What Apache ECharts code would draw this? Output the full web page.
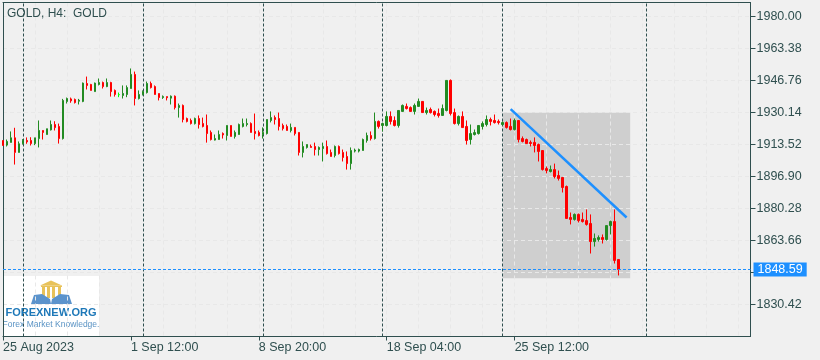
<!DOCTYPE html>
<html><head><meta charset="utf-8">
<style>html,body{margin:0;padding:0;background:#f0f0f0}#c{width:820px;height:360px}</style>
<script src="https://cdn.jsdelivr.net/npm/echarts@6/dist/echarts.min.js"></script>
</head><body><div id="c"></div>
<script>
const opens = [1915.6,1913.2,1914.6,1917.0,1909.4,1913.9,1915.6,1915.6,1914.0,1916.6,1920.8,1918.7,1921.1,1923.9,1922.9,1916.6,1935.9,1937.2,1936.9,1936.0,
1935.9,1945.2,1944.7,1941.0,1944.7,1945.7,1943.6,1945.7,1941.6,1939.4,1939.0,1939.5,1942.6,1949.9,1937.4,1939.5,1940.5,1945.2,1943.6,1940.0,
1937.9,1938.4,1937.6,1938.6,1932.7,1933.8,1927.0,1926.0,1924.4,1927.0,1924.4,1923.4,1919.8,1915.8,1916.1,1919.2,1918.2,1923.4,1917.7,1918.7,
1922.9,1923.9,1924.4,1920.3,1919.8,1918.7,1919.2,1926.0,1927.5,1927.0,1923.4,1922.9,1920.8,1922.4,1919.8,1909.4,1912.0,1912.5,1912.5,1910.9,
1911.4,1912.5,1909.4,1907.8,1912.5,1909.4,1907.3,1903.6,1910.1,1910.1,1910.4,1915.6,1918.2,1916.6,1925.5,1923.4,1923.4,1928.1,1926.0,1923.4,
1930.7,1933.3,1932.7,1930.7,1933.3,1935.9,1930.1,1931.7,1930.7,1929.6,1928.6,1931.2,1946.8,1930.1,1924.4,1928.1,1922.9,1916.1,1918.7,1919.2,
1922.9,1923.9,1926.5,1926.0,1925.5,1923.9,1924.9,1922.9,1921.3,1926.0,1916.6,1916.1,1914.6,1914.6,1913.5,1910.4,1901.0,1899.5,1900.5,1897.4,
1896.4,1891.7,1875.6,1874.6,1877.2,1874.6,1874.0,1872.5,1863.1,1864.2,1865.2,1864.2,1871.4,1873.5,1853.8];
const closes = [1913.0,1915.1,1917.0,1909.4,1913.9,1915.6,1914.9,1914.0,1917.0,1920.8,1919.8,1921.7,1923.9,1922.3,1916.6,1936.4,1937.4,1936.2,1935.3,1936.5,
1945.4,1944.2,1941.6,1945.4,1945.7,1943.6,1945.7,1941.0,1939.5,1939.4,1940.0,1943.1,1949.9,1937.4,1939.5,1941.0,1945.2,1943.1,1939.5,1937.9,
1938.4,1937.8,1938.6,1932.7,1933.8,1926.5,1925.5,1924.4,1927.0,1923.9,1922.9,1919.2,1916.1,1916.6,1918.7,1918.5,1923.4,1917.7,1919.8,1923.9,
1924.4,1924.4,1919.8,1919.2,1918.2,1919.8,1926.5,1927.5,1926.5,1922.9,1921.8,1920.8,1922.4,1919.2,1909.4,1912.5,1913.5,1912.0,1910.9,1912.0,
1912.5,1908.8,1907.3,1912.5,1908.8,1906.8,1903.6,1910.4,1910.6,1910.9,1916.1,1918.2,1916.6,1925.5,1922.9,1924.4,1928.1,1925.5,1923.4,1931.2,
1933.8,1932.2,1930.7,1933.8,1935.9,1930.1,1931.2,1930.1,1929.1,1928.6,1932.2,1946.8,1929.6,1924.4,1928.1,1922.3,1915.6,1919.2,1919.7,1923.4,
1924.4,1926.5,1925.5,1924.9,1924.9,1924.9,1922.4,1921.3,1926.0,1916.1,1915.1,1914.0,1914.0,1913.0,1909.9,1900.5,1900.0,1900.5,1896.9,1895.9,
1891.2,1875.1,1874.6,1877.2,1874.0,1873.5,1872.0,1863.1,1864.7,1865.2,1864.2,1871.4,1873.5,1853.3,1848.59];
const lows = [1913.0,1912.5,1914.6,1903.1,1909.4,1913.5,1913.9,1913.0,1913.2,1912.0,1916.1,1918.7,1920.8,1920.8,1914.0,1916.1,1934.8,1935.2,1934.8,1934.3,
1935.5,1942.1,1941.6,1941.0,1944.2,1942.6,1943.3,1938.4,1938.4,1938.1,1937.4,1938.1,1942.6,1933.8,1936.9,1939.0,1940.0,1942.6,1939.5,1936.4,
1937.2,1936.4,1934.3,1931.7,1927.5,1925.0,1925.0,1923.9,1923.9,1921.8,1922.4,1914.5,1915.6,1915.6,1916.1,1916.6,1915.6,1917.7,1916.6,1918.7,
1922.4,1922.9,1919.8,1916.1,1917.7,1916.6,1918.7,1925.0,1923.9,1920.8,1920.8,1920.8,1919.8,1918.2,1907.8,1906.8,1911.4,1912.0,1907.8,1907.8,
1904.7,1908.3,1907.3,1906.8,1908.3,1904.7,1900.5,1900.5,1909.4,1909.4,1910.4,1914.5,1915.6,1916.1,1921.8,1920.3,1922.9,1923.9,1922.9,1922.3,
1930.7,1931.7,1930.7,1929.1,1933.3,1930.1,1929.1,1929.6,1928.1,1927.5,1928.6,1930.7,1928.6,1923.9,1923.4,1922.3,1913.5,1913.5,1918.2,1918.7,
1921.3,1922.9,1923.4,1924.4,1923.9,1923.4,1921.8,1920.8,1920.8,1914.6,1914.6,1914.0,1912.5,1909.4,1904.7,1900.0,1898.5,1899.0,1895.9,1894.8,
1888.6,1875.1,1872.0,1874.0,1873.0,1873.0,1871.4,1856.9,1860.5,1863.1,1862.1,1863.6,1866.8,1851.7,1845.5];
const highs = [1915.6,1916.1,1920.3,1922.2,1915.1,1916.3,1917.2,1917.3,1917.0,1926.0,1920.8,1921.7,1926.0,1925.6,1924.4,1937.2,1937.9,1937.9,1937.4,1937.2,
1945.7,1948.8,1945.0,1945.7,1947.8,1946.2,1947.8,1946.1,1942.1,1940.5,1944.2,1944.2,1953.0,1951.4,1941.6,1941.6,1946.2,1946.2,1944.2,1940.0,
1939.0,1938.4,1939.0,1939.0,1934.8,1934.3,1927.5,1927.0,1927.5,1928.6,1927.5,1929.1,1920.8,1918.7,1920.8,1919.8,1923.4,1923.4,1920.8,1924.4,
1927.0,1927.0,1925.0,1929.6,1920.8,1922.4,1926.5,1930.7,1928.6,1930.1,1924.4,1923.9,1924.4,1922.4,1919.8,1915.1,1913.5,1913.5,1914.5,1912.5,
1914.5,1915.6,1910.9,1913.0,1913.0,1910.9,1909.9,1912.0,1911.4,1911.4,1916.6,1919.7,1920.3,1930.1,1926.0,1924.9,1930.7,1930.7,1928.1,1931.2,
1934.3,1934.8,1933.3,1934.8,1937.4,1935.9,1932.7,1932.7,1931.2,1932.2,1934.3,1946.8,1947.3,1932.2,1928.6,1930.7,1926.0,1923.9,1921.3,1923.4,
1925.5,1928.6,1927.5,1929.1,1926.5,1925.5,1925.5,1927.0,1927.0,1926.0,1917.7,1916.6,1915.6,1917.2,1914.0,1910.4,1902.1,1902.6,1903.6,1900.0,
1896.4,1892.2,1878.2,1877.7,1877.7,1878.2,1879.8,1877.2,1867.3,1866.3,1866.8,1871.4,1874.0,1879.8,1853.8];
const dojiBars = [29];
const yTicks = [1980.00,1963.38,1946.76,1930.14,1913.52,1896.90,1880.28,1863.66,1847.04,1830.42];
const xTickBars = [0,32,64,96,128];
const xTickLabels = ['25 Aug 2023','1 Sep 12:00','8 Sep 20:00','18 Sep 04:00','25 Sep 12:00'];
const separatorBars = [5,35,65,95,125,161];
const bidPrice = 1848.59;
const zoneBars = [125,156.9], zonePrices = [1930.14,1844.1];
const trendBars = [127,156], trendPrices = [1931.85,1875.6];
const INK='#2f4f4f', BLUE='#1e90ff', FONT='"Liberation Sans",Arial,sans-serif';

const candles = opens.map((o,i)=>{
  const value=[i,o,closes[i],lows[i],highs[i]];
  return dojiBars.includes(i)?{value,itemStyle:{color:'#00ff00',color0:'#00ff00',borderColor:'#00ff00',borderColor0:'#00ff00'}}:{value};
});
const gridLine={show:true,lineStyle:{color:'#e8e8e8',width:1,type:[4,3]}};
const frameLine={show:true,onZero:false,lineStyle:{color:INK,width:1}};
const chart=echarts.init(document.getElementById('c'),null,{renderer:'canvas'});
const gold='#e8c25a';
chart.setOption({
  animation:false,backgroundColor:'#f0f0f0',
  title:{text:'GOLD, H4:  GOLD',left:2,top:2,textStyle:{color:INK,fontSize:12,fontWeight:'normal',fontFamily:FONT,lineHeight:14}},
  grid:{left:2.5,top:2.5,width:748,height:334,show:false,containLabel:false},
  xAxis:[
    {type:'value',min:0,max:187,interval:8,position:'top',z:1,axisLine:frameLine,axisTick:{show:false},axisLabel:{show:false},splitLine:gridLine},
    {type:'value',min:0,max:187,position:'bottom',z:1,splitLine:{show:false},
     axisLine:frameLine,
     axisTick:{show:true,length:4,lineStyle:{color:INK},customValues:xTickBars},
     axisLabel:{show:true,customValues:xTickBars,align:'left',margin:5,color:INK,fontSize:12.5,fontFamily:FONT,
       formatter:v=>xTickLabels[xTickBars.indexOf(v)]||''}}
  ],
  yAxis:{type:'value',min:1813.8,max:1987.27,position:'right',z:1,
    axisLine:frameLine,
    axisTick:{show:true,length:5,lineStyle:{color:INK},customValues:yTicks},
    axisLabel:{show:true,customValues:yTicks,margin:6,color:INK,fontSize:12.5,fontFamily:FONT,formatter:v=>v.toFixed(2)},
    splitLine:gridLine},
  series:[
    {type:'line',name:'zone',data:[],z:0,silent:true,
     markArea:{silent:true,z:0,itemStyle:{color:'#cfcfcf'},
       data:[[{xAxis:zoneBars[0],yAxis:zonePrices[0]},{xAxis:zoneBars[1],yAxis:zonePrices[1]}]]}},
    {type:'line',name:'separators',data:[],z:2,silent:true,
     markLine:{silent:true,z:2,symbol:'none',animation:false,label:{show:false},
       lineStyle:{color:INK,width:1,type:[3,2]},
       data:[{xAxis:0,lineStyle:{color:INK,width:1,type:'solid'}}].concat(separatorBars.map(b=>({xAxis:b})))}},
    {type:'candlestick',name:'GOLD',z:3,xAxisIndex:0,barWidth:2,clip:true,silent:true,
     encode:{x:0,y:[1,2,3,4]},
     itemStyle:{color:'#228b22',color0:'#ff0000',borderColor:'#228b22',borderColor0:'#ff0000',borderWidth:1},
     data:candles},
    {type:'line',name:'overlay',data:[],z:5,silent:true,
     markLine:{silent:true,z:5,symbol:'none',animation:false,
       data:[
         {yAxis:bidPrice,lineStyle:{color:BLUE,width:1,type:[3,2]},
          label:{show:true,position:'end',distance:3,formatter:bidPrice.toFixed(2),color:'#fff',backgroundColor:BLUE,fontSize:12.5,fontFamily:FONT,padding:[1,4,1,4],lineHeight:12}},
         [{coord:[trendBars[0],trendPrices[0]],lineStyle:{color:BLUE,width:2.5,type:'solid'},label:{show:false}},{coord:[trendBars[1],trendPrices[1]]}]
       ]}}
  ],
  graphic:[
    {type:'group',z:10,silent:true,children:[
      {type:'rect',shape:{x:3,y:276,width:96,height:60},style:{fill:'#fff'}},
      {type:'polygon',shape:{points:[[51,280.5],[62,285.5],[40,285.5]]},style:{fill:gold}},
      {type:'rect',shape:{x:41,y:285.5,width:21,height:1.5},style:{fill:gold}},
      {type:'rect',shape:{x:42,y:287,width:3,height:10},style:{fill:gold}},
      {type:'rect',shape:{x:47,y:287,width:3,height:11},style:{fill:gold}},
      {type:'rect',shape:{x:52,y:287,width:3,height:11},style:{fill:gold}},
      {type:'rect',shape:{x:58,y:287,width:3,height:10},style:{fill:gold}},
      {type:'polygon',shape:{points:[[34,295],[42,294],[50,299],[51,304],[31,304]]},style:{fill:'#5b93cc'}},
      {type:'polygon',shape:{points:[[69,295],[60,294],[52,299],[51,304],[72,304]]},style:{fill:'#5b93cc'}},
      {type:'text',x:51,y:313,style:{text:'FOREXNEW.ORG',fill:'#1e78b8',font:'bold 11px "Liberation Sans",Arial',align:'center',verticalAlign:'middle'}},
      {type:'text',x:51,y:325,style:{text:'Forex Market Knowledge.',fill:'#5a93c4',font:'8.5px "Liberation Sans",Arial',align:'center',verticalAlign:'middle'}}
    ]}
  ]
});
</script></body></html>
